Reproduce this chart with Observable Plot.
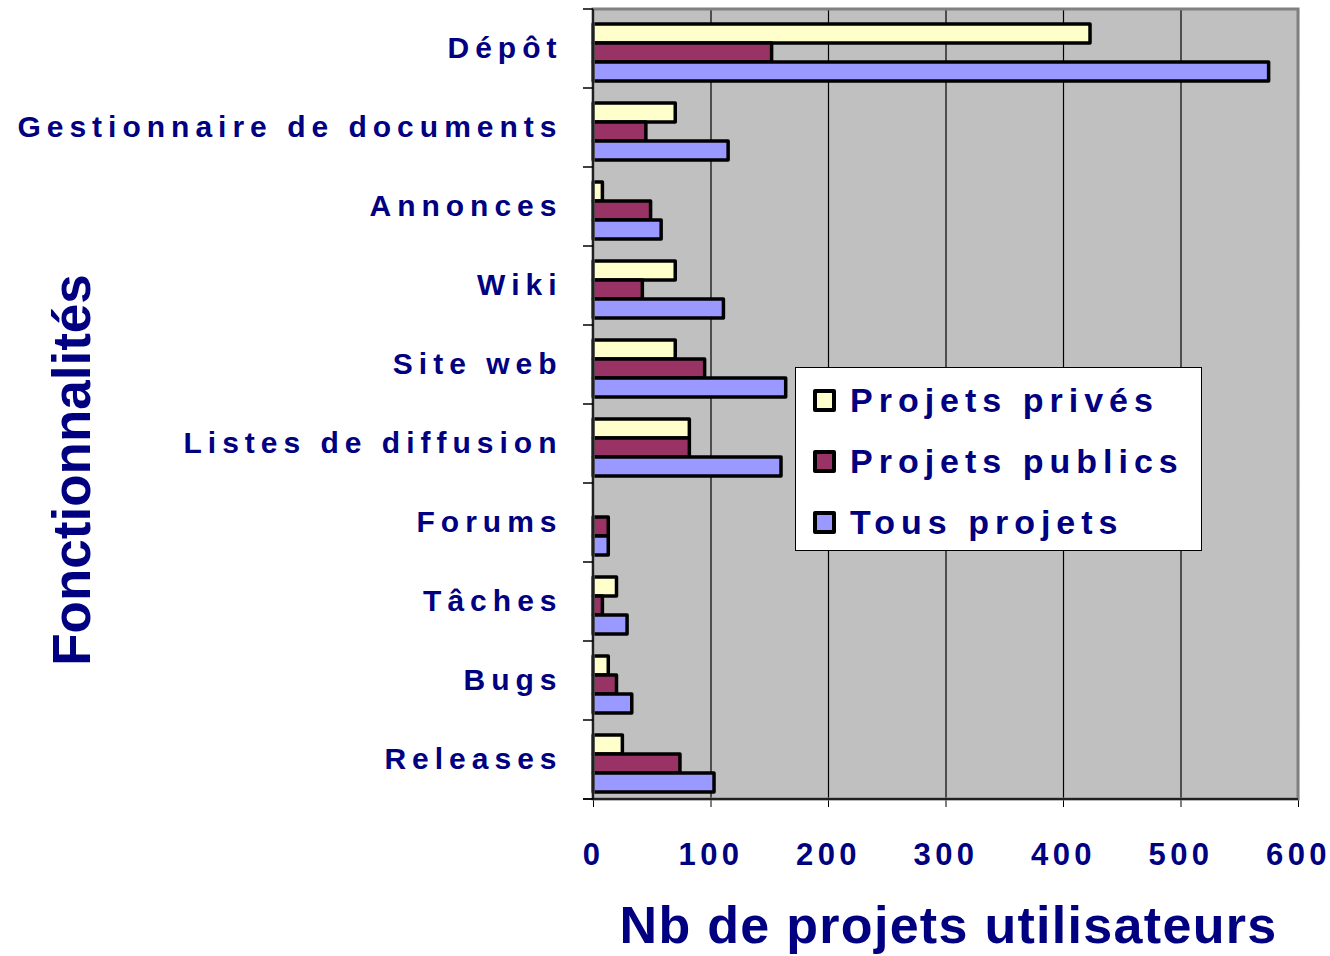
<!DOCTYPE html>
<html>
<head>
<meta charset="utf-8">
<script src="https://cdn.jsdelivr.net/npm/d3@7"></script>
<script src="https://cdn.jsdelivr.net/npm/@observablehq/plot@0.6"></script>
<style>
  html, body { margin: 0; padding: 0; background: white; }
  #wrap { position: relative; width: 1330px; height: 956px; font-family: "Liberation Sans", Arial, sans-serif; }
  g[aria-label="x-axis tick label"], g[aria-label="x-axis tick label"] text {
    fill: #000080; font-weight: bold; letter-spacing: 4.5px;
  }
  g[aria-label="fy-axis tick label"], g[aria-label="fy-axis tick label"] text {
    fill: #000080; font-weight: bold; letter-spacing: 6px;
  }
  .title { fill: #000080; font-weight: bold; font-family: "Liberation Sans", Arial, sans-serif; }
  #legend { position: absolute; left: 795px; top: 367px; width: 407px; height: 184px; box-sizing: border-box;
    background: white; border: 1px solid black; }
  .lrow { position: absolute; left: 17px; height: 40px; display: flex; align-items: center; }
  .sw { width: 23px; height: 23px; box-sizing: border-box; border: 4px solid black; border-radius: 2px; margin-right: 14px; }
  .lt { font-size: 34px; font-weight: bold; color: #000080; letter-spacing: 6px; white-space: nowrap; }
</style>
</head>
<body>
<div id="wrap"></div>
<script>
const categories = ["Dépôt", "Gestionnaire de documents", "Annonces", "Wiki", "Site web",
  "Listes de diffusion", "Forums", "Tâches", "Bugs", "Releases"];
const series = ["Projets privés", "Projets publics", "Tous projets"];
const prives  = [423, 70, 8, 70, 70, 82, 0, 20, 13, 25];
const publics = [152, 45, 49, 42, 95, 82, 13, 8, 20, 74];
const tous    = [575, 115, 58, 111, 164, 160, 13, 29, 33, 103];
const xTicks = [0, 100, 200, 300, 400, 500, 600];
const colors = ["#FFFFCC", "#993366", "#9999FF"];
const xTitle = "Nb de projets utilisateurs";
const yTitle = "Fonctionnalités";

(function () {
const seriesValues = [prives, publics, tous];
const rows = [];
categories.forEach((c, i) => {
  series.forEach((s, j) => rows.push({cat: c, series: s, value: seriesValues[j][i]}));
});

const plot = Plot.plot({
  width: 1330,
  height: 956,
  marginLeft: 593,
  marginRight: 32,
  marginTop: 8,
  marginBottom: 156,
  style: {fontFamily: "'Liberation Sans', Arial, sans-serif", background: "white"},
  x: {domain: [0, 600]},
  y: {domain: series, paddingInner: 0, paddingOuter: 0.55, align: 0.67, axis: null},
  fy: {domain: categories, padding: 0},
  color: {domain: series, range: colors},
  marks: [
    Plot.frame({fill: "#C0C0C0", stroke: "#C0C0C0", strokeWidth: 1.5}),
    Plot.ruleX(xTicks.slice(1, -1), {stroke: "black", strokeWidth: 1.2}),
    Plot.barX(rows.filter(d => d.value > 0), {
      x: "value", y: "series", fy: "cat", fill: "series",
      stroke: "black", strokeWidth: 3.5, strokeLinejoin: "round"
    }),
    Plot.axisX({ticks: xTicks, tickSize: 8, tickPadding: 35, tickFormat: d => String(d),
      fontSize: 31, fontWeight: "bold", stroke: "black", label: null}),
    Plot.axisFy({anchor: "left", tickSize: 0, tickPadding: 31, dy: -1, fontSize: 30, fontWeight: "bold", label: null})
  ]
});

document.getElementById("wrap").appendChild(plot);

// Plot-area border, axis lines and band-boundary ticks, positioned with the plot's own scales
const fy = plot.scale("fy");
const xs = plot.scale("x");
const yTop = fy.apply(categories[0]);
const yBottom = fy.apply(categories[categories.length - 1]) + fy.bandwidth;
const x0 = xs.apply(0), x1 = xs.apply(600);
const svg = d3.select(plot);
const g = svg.append("g");
g.append("rect").attr("x", x0).attr("y", yTop).attr("width", x1 - x0).attr("height", yBottom - yTop)
  .attr("fill", "none").attr("stroke", "#808080").attr("stroke-width", 3);
g.append("line").attr("x1", x0).attr("x2", x0).attr("y1", yTop).attr("y2", yBottom)
  .attr("stroke", "black").attr("stroke-width", 1.5);
g.append("line").attr("x1", x0 - 10).attr("x2", x1).attr("y1", yBottom).attr("y2", yBottom)
  .attr("stroke", "black").attr("stroke-width", 1.5);
const bounds = categories.map(c => fy.apply(c)).concat([yBottom]);
g.selectAll(".bt").data(bounds).join("line")
  .attr("x1", x0 - 10).attr("x2", x0).attr("y1", d => d).attr("y2", d => d)
  .attr("stroke", "black").attr("stroke-width", 1.5);

// Axis titles
svg.append("text").attr("class", "title").attr("x", (x0 + x1) / 2 + 3).attr("y", 943)
  .attr("text-anchor", "middle").attr("font-size", 52).attr("letter-spacing", "1.3px").text(xTitle);
svg.append("text").attr("class", "title")
  .attr("transform", `translate(90, ${(yTop + yBottom) / 2 + 66}) rotate(-90)`)
  .attr("text-anchor", "middle").attr("font-size", 53).text(yTitle);

// Legend
const legend = d3.select("#wrap").append("div").attr("id", "legend");
const rowTops = [12, 73, 134];
series.forEach((s, i) => {
  const r = legend.append("div").attr("class", "lrow").style("top", rowTops[i] + "px");
  r.append("div").attr("class", "sw").style("background", colors[i]);
  r.append("div").attr("class", "lt").text(s);
});
})();
</script>
</body>
</html>
